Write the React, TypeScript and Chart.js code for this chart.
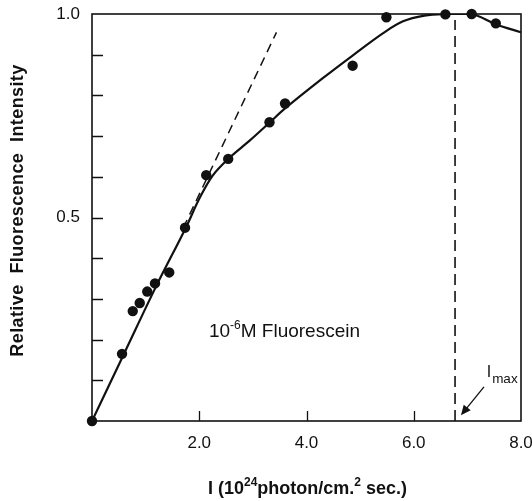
import { useEffect, useRef } from "react";
import { Chart, registerables } from "chart.js";

Chart.register(...registerables);

// Measured data points (I in 10^24 photon/cm^2 sec, relative intensity)
const pointX = [0, 0.56, 0.76, 0.89, 1.03, 1.175, 1.44, 1.735, 2.13, 2.54, 3.31, 3.6, 4.86, 5.49, 6.59, 7.08, 7.53];
const pointY = [0, 0.165, 0.27, 0.29, 0.318, 0.338, 0.365, 0.475, 0.604, 0.644, 0.734, 0.78, 0.873, 0.992, 0.999, 1.0, 0.977];

// Smooth fitted curve
const curveX = [0, 0.6, 1.2, 1.75, 2.0, 2.25, 2.54, 2.95, 3.31, 3.6, 4.31, 4.86, 5.43, 5.8, 6.2, 6.59, 7.08, 7.53, 8.0];
const curveY = [0, 0.166, 0.332, 0.475, 0.546, 0.603, 0.644, 0.69, 0.733, 0.768, 0.843, 0.898, 0.953, 0.982, 0.996, 1.0, 1.0, 0.975, 0.955];

// Dashed initial-slope line
const tangentX = [1.7, 3.44];
const tangentY = [0.474, 0.955];

// Imax vertical dashed line
const imaxX = [6.77, 6.77];
const imaxY = [0, 0.985];

// Arrow pointing to Imax (tail -> head)
const arrowX = [7.31, 6.88];
const arrowY = [0.084, 0.014];

// Axis ticks
const xTickValues = [2, 4, 6, 8];
const yLabelValues = [0.5, 1.0];

const xTitleParts = ["I (10", "24", "photon/cm.", "2", " sec.)"];
const yTitle = "Relative  Fluorescence  Intensity";
const noteParts = ["10", "-6", "M Fluorescein"];
const imaxParts = ["I", "max"];
const noteAt = { x: 2.18, y: 0.206 };
const imaxAt = { x: 7.36, y: 0.109 };

const FONT = "'Liberation Sans', Arial, Helvetica, sans-serif";

type Part = { t: string; size: number; dy: number; bold?: boolean };

function drawRich(ctx: CanvasRenderingContext2D, parts: Part[], x: number, y: number, align: "left" | "center") {
  let total = 0;
  for (const p of parts) {
    ctx.font = `${p.bold ? "bold " : ""}${p.size}px ${FONT}`;
    total += ctx.measureText(p.t).width;
  }
  let cx = align === "center" ? x - total / 2 : x;
  ctx.textAlign = "left";
  ctx.textBaseline = "alphabetic";
  for (const p of parts) {
    ctx.font = `${p.bold ? "bold " : ""}${p.size}px ${FONT}`;
    ctx.fillText(p.t, cx, y + p.dy);
    cx += ctx.measureText(p.t).width;
  }
}

const overlay = {
  id: "overlay",
  beforeDatasetsDraw(chart: any) {
    const { ctx, chartArea: a, scales } = chart;
    const x = scales.x;
    const y = scales.y;
    ctx.save();
    ctx.strokeStyle = "#111";
    ctx.lineWidth = 1.6;
    ctx.strokeRect(a.left, a.top, a.right - a.left, a.bottom - a.top);
    ctx.lineWidth = 1.3;
    ctx.beginPath();
    for (const t of y.ticks) {
      if (t.value <= 0 || t.value >= 1) continue;
      const py = Math.round(y.getPixelForValue(t.value)) + 0.5;
      ctx.moveTo(a.left, py);
      ctx.lineTo(a.left + 11, py);
    }
    for (const t of x.ticks) {
      if (t.value <= 0 || t.value >= 8) continue;
      const px = Math.round(x.getPixelForValue(t.value)) + 0.5;
      ctx.moveTo(px, a.bottom);
      ctx.lineTo(px, a.bottom - 10);
    }
    ctx.stroke();
    ctx.restore();
  },
  afterDatasetsDraw(chart: any) {
    const { ctx, chartArea: a, scales } = chart;
    const x = scales.x;
    const y = scales.y;
    ctx.save();
    ctx.fillStyle = "#111";
    ctx.strokeStyle = "#111";

    // annotation text
    drawRich(
      ctx,
      [
        { t: noteParts[0], size: 19, dy: 0 },
        { t: noteParts[1], size: 12, dy: -8 },
        { t: noteParts[2], size: 19, dy: 0 },
      ],
      x.getPixelForValue(noteAt.x),
      y.getPixelForValue(noteAt.y),
      "left"
    );

    // Imax label
    const ix = x.getPixelForValue(imaxAt.x);
    const iy = y.getPixelForValue(imaxAt.y);
    ctx.font = `16px ${FONT}`;
    ctx.textAlign = "left";
    ctx.textBaseline = "alphabetic";
    ctx.fillText(imaxParts[0], ix, iy);
    const iw = ctx.measureText(imaxParts[0]).width;
    ctx.font = `13.5px ${FONT}`;
    ctx.fillText(imaxParts[1], ix + iw + 1, iy + 6);

    // arrow
    const tx = x.getPixelForValue(arrowX[0]);
    const ty = y.getPixelForValue(arrowY[0]);
    const hx = x.getPixelForValue(arrowX[1]);
    const hy = y.getPixelForValue(arrowY[1]);
    const ang = Math.atan2(hy - ty, hx - tx);
    ctx.lineWidth = 1.3;
    ctx.beginPath();
    ctx.moveTo(tx, ty);
    ctx.lineTo(hx - 6 * Math.cos(ang), hy - 6 * Math.sin(ang));
    ctx.stroke();
    ctx.beginPath();
    ctx.moveTo(hx, hy);
    ctx.lineTo(hx - 10 * Math.cos(ang) + 4.5 * Math.sin(ang), hy - 10 * Math.sin(ang) - 4.5 * Math.cos(ang));
    ctx.lineTo(hx - 10 * Math.cos(ang) - 4.5 * Math.sin(ang), hy - 10 * Math.sin(ang) + 4.5 * Math.cos(ang));
    ctx.closePath();
    ctx.fill();

    // x axis title
    drawRich(
      ctx,
      [
        { t: xTitleParts[0], size: 18, dy: 0, bold: true },
        { t: xTitleParts[1], size: 12, dy: -8, bold: true },
        { t: xTitleParts[2], size: 18, dy: 0, bold: true },
        { t: xTitleParts[3], size: 12, dy: -8, bold: true },
        { t: xTitleParts[4], size: 18, dy: 0, bold: true },
      ],
      (a.left + a.right) / 2 + 1,
      494,
      "center"
    );

    // y axis title
    ctx.save();
    ctx.translate(23, (a.top + a.bottom) / 2 - 7);
    ctx.rotate(-Math.PI / 2);
    ctx.font = `bold 18px ${FONT}`;
    (ctx as any).letterSpacing = "0.4px";
    ctx.textAlign = "center";
    ctx.textBaseline = "alphabetic";
    ctx.fillText(yTitle, 0, 0);
    ctx.restore();

    ctx.restore();
  },
};

export default function App() {
  const ref = useRef<HTMLCanvasElement>(null);

  useEffect(() => {
    const canvas = ref.current;
    if (!canvas) return;
    const toXY = (xs: number[], ys: number[]) => xs.map((v, i) => ({ x: v, y: ys[i] }));

    const chart = new Chart(canvas, {
      type: "line",
      data: {
        datasets: [
          {
            label: "points",
            data: toXY(pointX, pointY),
            showLine: false,
            pointRadius: 5.2,
            pointBackgroundColor: "#111",
            pointBorderColor: "#111",
            pointBorderWidth: 0,
            clip: false,
          },
          {
            label: "curve",
            data: toXY(curveX, curveY),
            borderColor: "#111",
            borderWidth: 2.2,
            pointRadius: 0,
            tension: 0.35,
            fill: false,
          },
          {
            label: "tangent",
            data: toXY(tangentX, tangentY),
            borderColor: "#111",
            borderWidth: 1.5,
            borderDash: [9, 6],
            pointRadius: 0,
            fill: false,
          },
          {
            label: "imax",
            data: toXY(imaxX, imaxY),
            borderColor: "#111",
            borderWidth: 1.6,
            borderDash: [11, 6],
            pointRadius: 0,
            fill: false,
          },
        ],
      },
      options: {
        responsive: false,
        animation: false,
        devicePixelRatio: 1,
        layout: { padding: { left: 0, top: 14, right: 11, bottom: 0 } },
        plugins: { legend: { display: false }, tooltip: { enabled: false } },
        scales: {
          x: {
            type: "linear",
            min: 0,
            max: 8,
            grid: { display: false, drawTicks: false },
            border: { display: false },
            afterBuildTicks: (s: any) => {
              s.ticks = [0, ...xTickValues].map((v) => ({ value: v }));
            },
            ticks: {
              padding: 12,
              color: "#111",
              font: { family: FONT, size: 17 },
              callback: (v: any) => (xTickValues.includes(Number(v)) ? Number(v).toFixed(1) : ""),
              maxRotation: 0,
              autoSkip: false,
            },
            afterFit: (s: any) => {
              s.height = 80;
              s.paddingLeft = 0;
              s.paddingRight = 0;
            },
          },
          y: {
            type: "linear",
            min: 0,
            max: 1,
            grid: { display: false, drawTicks: false },
            border: { display: false },
            ticks: {
              stepSize: 0.1,
              padding: 12,
              color: "#111",
              font: { family: FONT, size: 17 },
              autoSkip: false,
              callback: (v: any) => {
                const n = Number(v);
                const hit = yLabelValues.find((l) => Math.abs(l - n) < 1e-6);
                return hit !== undefined ? hit.toFixed(1) : "";
              },
            },
            afterFit: (s: any) => {
              s.width = 92;
              s.paddingTop = 0;
              s.paddingBottom = 0;
            },
          },
        },
      },
      plugins: [overlay],
    });
    return () => chart.destroy();
  }, []);

  return (
    <div style={{ position: "fixed", left: 0, top: 0, width: 532, height: 501, background: "#fff" }}>
      <canvas ref={ref} width={532} height={501} style={{ width: 532, height: 501, display: "block" }} />
    </div>
  );
}
